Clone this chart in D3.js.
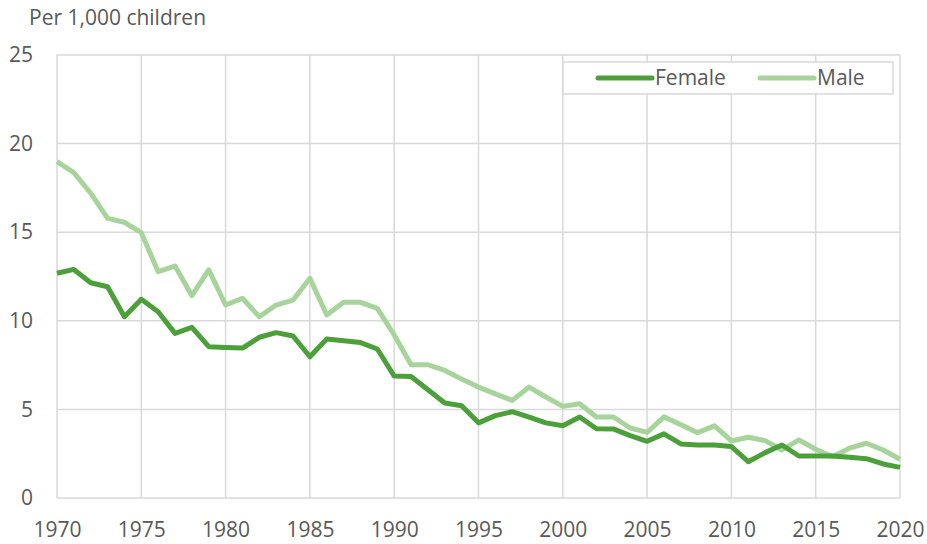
<!DOCTYPE html>
<html>
<head>
<meta charset="utf-8">
<script src="https://cdn.jsdelivr.net/npm/d3@7"></script>
<style>
  body { margin: 0; background: #fff; }
  text { font-family: "Open Sans", sans-serif; fill: #595959; }
</style>
</head>
<body>
<div class="lineChart"></div>
<script>
var years = d3.range(1970, 2021);
var female = [12.68, 12.9, 12.15, 11.92, 10.23, 11.21, 10.51, 9.29, 9.63, 8.54,
              8.5, 8.46, 9.07, 9.33, 9.14, 7.97, 8.97, 8.88, 8.77, 8.41,
              6.88, 6.86, 6.11, 5.36, 5.21, 4.24, 4.65, 4.87, 4.57, 4.24,
              4.08, 4.57, 3.91, 3.9, 3.52, 3.2, 3.62, 3.05, 2.99, 2.99,
              2.9, 2.05, 2.56, 2.99, 2.37, 2.37, 2.37, 2.3, 2.22, 1.92, 1.73];
var male = [18.98, 18.36, 17.2, 15.78, 15.56, 14.97, 12.77, 13.09, 11.42, 12.87,
            10.89, 11.27, 10.23, 10.89, 11.17, 12.4, 10.33, 11.04, 11.04, 10.7,
            9.2, 7.52, 7.52, 7.2, 6.71, 6.26, 5.88, 5.51, 6.26, 5.7,
            5.17, 5.32, 4.57, 4.57, 3.95, 3.7, 4.58, 4.13, 3.69, 4.07,
            3.22, 3.43, 3.24, 2.71, 3.28, 2.75, 2.33, 2.81, 3.09, 2.71, 2.19];
var xTicks = d3.range(1970, 2021, 5);
var yTicks = [0, 5, 10, 15, 20, 25];
var seriesNames = ["Female", "Male"];
var colors = ["#4ca03a", "#a6d49a"];

var w = 927;
var h = 544;
var padLeft = 57, padRight = 900, padTop = 55, padBottom = 498;
var fontSize = 21;

var svg = d3.select(".lineChart")
            .append("svg")
            .attr("width", w)
            .attr("height", h);

var xScale = d3.scaleLinear().domain([1970, 2020]).range([padLeft, padRight]);
var yScale = d3.scaleLinear().domain([0, 25]).range([padBottom, padTop]);

// gridlines
svg.selectAll(".hgrid")
    .data(yTicks)
    .enter()
    .append("line")
    .attr("class", "hgrid")
    .attr("x1", padLeft)
    .attr("x2", padRight)
    .attr("y1", d => yScale(d))
    .attr("y2", d => yScale(d))
    .attr("stroke", "#d9d9d9")
    .attr("stroke-width", 1.5);

svg.selectAll(".vgrid")
    .data(xTicks)
    .enter()
    .append("line")
    .attr("class", "vgrid")
    .attr("x1", d => xScale(d))
    .attr("x2", d => xScale(d))
    .attr("y1", padTop)
    .attr("y2", padBottom)
    .attr("stroke", "#d9d9d9")
    .attr("stroke-width", 1.5);

// axes text
var yAxis = d3.axisLeft(yScale).tickValues(yTicks).tickSize(0).tickPadding(24);
svg.append("g")
    .attr("transform", `translate(${padLeft},0)`)
    .call(yAxis)
    .call(g => g.select(".domain").remove())
    .selectAll("text")
    .attr("font-size", fontSize)
    .attr("font-family", "Open Sans")
    .attr("fill", "#595959");

var xAxis = d3.axisBottom(xScale).tickValues(xTicks).tickFormat(d3.format("d")).tickSize(0).tickPadding(24);
svg.append("g")
    .attr("transform", `translate(0,${padBottom})`)
    .call(xAxis)
    .call(g => g.select(".domain").remove())
    .selectAll("text")
    .attr("font-size", fontSize)
    .attr("font-family", "Open Sans")
    .attr("fill", "#595959");

svg.append("text")
    .attr("x", 29)
    .attr("y", 25)
    .attr("font-size", fontSize)
    .text("Per 1,000 children");

// lines
var line = d3.line()
    .x((d, i) => xScale(years[i]))
    .y(d => yScale(d));

[male, female].forEach(function(series, k) {
    svg.append("path")
        .datum(series)
        .attr("fill", "none")
        .attr("stroke", k == 0 ? colors[1] : colors[0])
        .attr("stroke-width", 5)
        .attr("stroke-linejoin", "round")
        .attr("d", line);
});

// legend
svg.append("rect")
    .attr("x", 563)
    .attr("y", 62)
    .attr("width", 330)
    .attr("height", 32)
    .attr("fill", "#fff")
    .attr("stroke", "#d9d9d9")
    .attr("stroke-width", 1.5);

var legendX = [598, 760];
seriesNames.forEach(function(name, i) {
    svg.append("line")
        .attr("x1", legendX[i])
        .attr("x2", legendX[i] + 54)
        .attr("y1", 78)
        .attr("y2", 78)
        .attr("stroke", colors[i])
        .attr("stroke-width", 5)
        .attr("stroke-linecap", "round");
    svg.append("text")
        .attr("x", legendX[i] + 57)
        .attr("y", 85)
        .attr("font-size", fontSize)
        .text(name);
});
</script>
</body>
</html>
